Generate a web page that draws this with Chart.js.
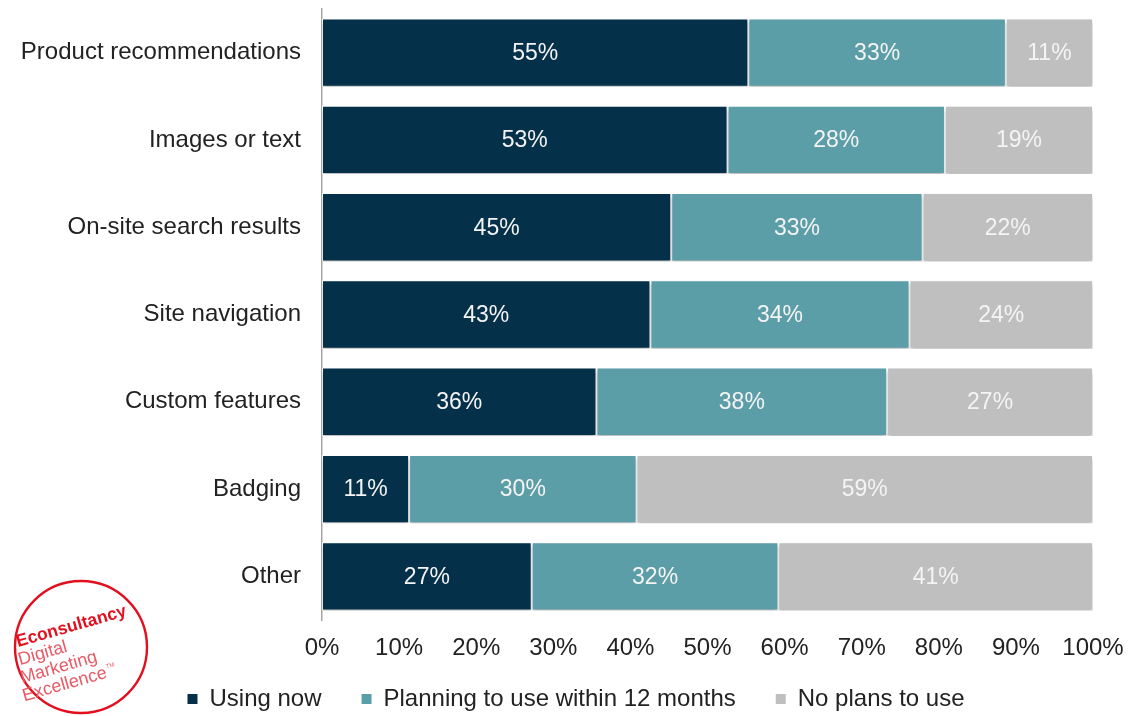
<!DOCTYPE html>
<html>
<head>
<meta charset="utf-8">
<script src="https://cdn.jsdelivr.net/npm/chart.js@4.4.1/dist/chart.umd.min.js"></script>
<style>
  html, body { margin: 0; padding: 0; background: #ffffff; }
  #wrap { position: relative; width: 1136px; height: 716px; }
</style>
</head>
<body>
<div id="wrap"><canvas id="c" width="1136" height="716"></canvas></div>
<script>
// ---- data ----
const categories = [
  'Product recommendations',
  'Images or text',
  'On-site search results',
  'Site navigation',
  'Custom features',
  'Badging',
  'Other'
];
const usingNow    = [55.3, 52.6, 45.3, 42.6, 35.6, 11.3, 27.2];
const planning    = [33.4, 28.2, 32.6, 33.6, 37.7, 29.5, 32.0];
const noPlans     = [11.3, 19.2, 22.1, 23.8, 26.7, 59.2, 40.8];
const seriesNames = ['Using now', 'Planning to use within 12 months', 'No plans to use'];
const xTicks      = [0, 10, 20, 30, 40, 50, 60, 70, 80, 90, 100];
const logoLines   = ['Econsultancy', 'Digital', 'Marketing', 'Excellence'];

const colors = ['#05304a', '#5c9ea7', '#bfbfbf'];
const FONT = "'Liberation Sans', Arial, sans-serif";
Chart.defaults.font.family = FONT;
Chart.defaults.color = '#222222';

const shadowPlugin = {
  id: 'barShadow',
  beforeDatasetsDraw(chart) {
    const ctx = chart.ctx;
    ctx.save();
    ctx.shadowColor = 'rgba(0,0,0,0.28)';
    ctx.shadowBlur = 4;
    ctx.shadowOffsetY = 3;
  },
  afterDatasetsDraw(chart) {
    chart.ctx.restore();
  }
};

const labelPlugin = {
  id: 'segLabels',
  afterDatasetsDraw(chart) {
    const ctx = chart.ctx;
    ctx.save();
    ctx.shadowColor = 'transparent';
    ctx.fillStyle = '#f4f4f4';
    ctx.font = '23px ' + FONT;
    ctx.textAlign = 'center';
    ctx.textBaseline = 'middle';
    chart.data.datasets.forEach((ds, di) => {
      const meta = chart.getDatasetMeta(di);
      meta.data.forEach((el, i) => {
        const v = ds.data[i];
        const cx = (el.x + el.base) / 2;
        ctx.fillText(Math.round(v) + '%', cx, el.y + 1);
      });
    });
    ctx.restore();
  }
};

// legend placement: compact height, then position like the reference
const legendPlacePlugin = {
  id: 'legendPlace',
  beforeLayout(chart) {
    const L = chart.legend;
    if (L && !L._patched) {
      const orig = L.fit.bind(L);
      L.fit = function () { orig(); this.height = 51; };
      L._patched = true;
    }
  },
  afterLayout(chart) {
    const L = chart.legend;
    if (!L) return;
    L.left += 8; L.right += 8;
    L.top = 647; L.bottom = 716;
    L.height = 69;
  }
};

const logoPlugin = {
  id: 'logo',
  afterDraw(chart) {
    const ctx = chart.ctx;
    ctx.save();
    ctx.strokeStyle = '#e2101e';
    ctx.lineWidth = 2.4;
    ctx.beginPath();
    ctx.arc(81, 647, 66, 0, Math.PI * 2);
    ctx.stroke();
    ctx.translate(18, 647);
    ctx.rotate(-16 * Math.PI / 180);
    ctx.textAlign = 'left';
    ctx.textBaseline = 'alphabetic';
    ctx.fillStyle = '#e2101e';
    ctx.font = 'bold 17.5px ' + FONT;
    ctx.fillText(logoLines[0], 0, 0);
    ctx.fillStyle = '#ea5a66';
    ctx.font = '18px ' + FONT;
    ctx.fillText(logoLines[1], -3, 18);
    ctx.fillText(logoLines[2], -6, 36);
    ctx.fillText(logoLines[3], -9, 54);
    const w = ctx.measureText(logoLines[3]).width;
    ctx.font = '6px ' + FONT;
    ctx.fillText('TM', -9 + w + 1, 45);
    ctx.restore();
  }
};

const data = {
  labels: categories,
  datasets: [usingNow, planning, noPlans].map((arr, k) => ({
    label: seriesNames[k],
    data: arr,
    backgroundColor: colors[k],
    borderColor: '#ffffff',
    borderWidth: 1,
    borderSkipped: false,
    barPercentage: 0.88,
    categoryPercentage: 0.89
  }))
};

new Chart(document.getElementById('c'), {
  type: 'bar',
  data,
  plugins: [legendPlacePlugin, shadowPlugin, labelPlugin, logoPlugin],
  options: {
    indexAxis: 'y',
    responsive: false,
    animation: false,
    layout: { padding: { left: 0, right: 0, top: 9, bottom: 0 } },
    scales: {
      x: {
        stacked: true,
        min: 0,
        max: 100,
        afterBuildTicks(scale) { scale.ticks = xTicks.map(v => ({ value: v })); },
        ticks: {
          callback: v => v + '%',
          font: { size: 24 },
          color: '#222222',
          padding: 6,
          maxRotation: 0
        },
        grid: { display: false },
        border: { display: false },
        afterFit(scale) { scale.height = 45; scale.paddingRight = 43; scale.paddingLeft = 0; }
      },
      y: {
        stacked: true,
        ticks: { font: { size: 24 }, color: '#222222', padding: 13 },
        grid: { display: false },
        border: { display: true, color: '#a6a6a6', width: 1.5 },
        afterFit(scale) { scale.width = 322; scale.paddingTop = 0; scale.paddingBottom = 0; }
      }
    },
    plugins: {
      legend: {
        position: 'bottom',
        labels: {
          font: { size: 24 },
          color: '#222222',
          boxWidth: 10,
          boxHeight: 10,
          padding: 40,
          generateLabels(chart) {
            const items = Chart.defaults.plugins.legend.labels.generateLabels(chart);
            items.forEach(it => { it.lineWidth = 0; it.strokeStyle = 'transparent'; });
            return items;
          }
        }
      },
      tooltip: { enabled: false }
    }
  }
});
</script>
</body>
</html>
